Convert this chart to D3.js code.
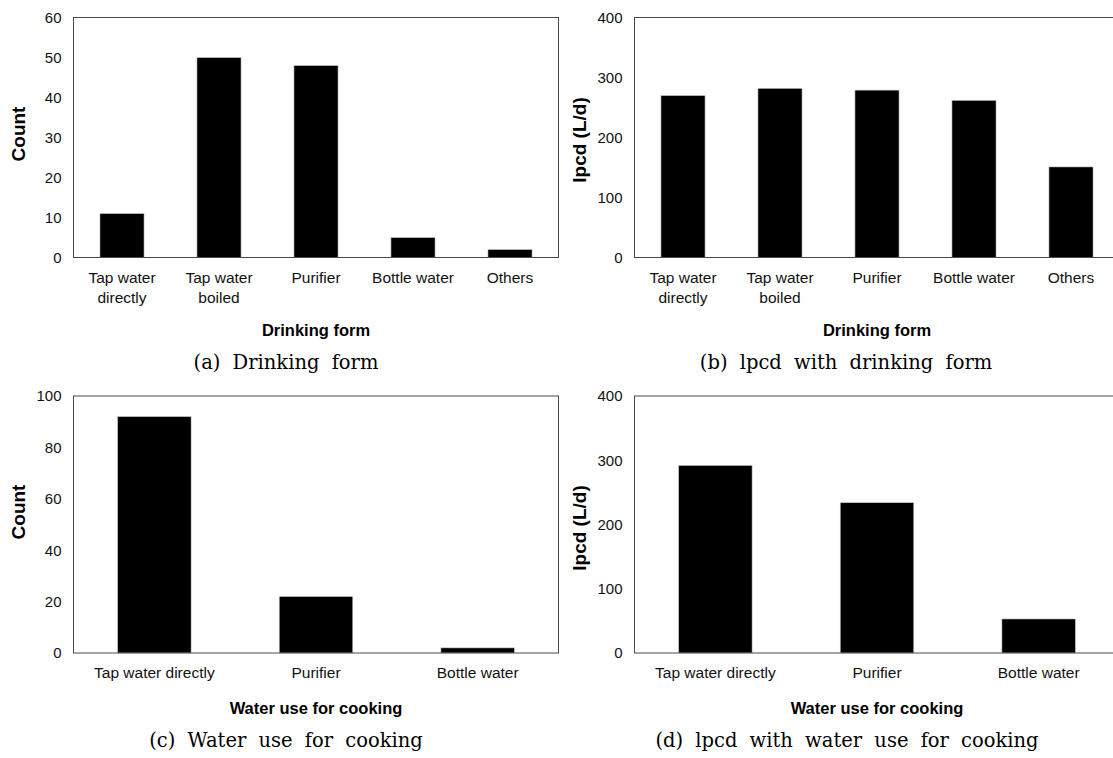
<!DOCTYPE html>
<html>
<head>
<meta charset="utf-8">
<script src="https://cdn.jsdelivr.net/npm/d3@7"></script>
<style>
body { margin: 0; background: #fff; }
</style>
</head>
<body>
<div id="chart"></div>
<script>
// categories (a "\n" marks a line break in the tick label)
var drinkForms = ["Tap water\ndirectly", "Tap water\nboiled", "Purifier", "Bottle water", "Others"];
var cookForms = ["Tap water directly", "Purifier", "Bottle water"];

// series values
var drinkCounts = [11, 50, 48, 5, 2];
var drinkLpcd = [270, 282, 279, 262, 151];
var cookCounts = [92, 22, 2];
var cookLpcd = [292, 234, 53];

// tick labels
var countTicksA = [0, 10, 20, 30, 40, 50, 60];
var countTicksC = [0, 20, 40, 60, 80, 100];
var lpcdTicks = [0, 100, 200, 300, 400];

var plotWidth = 485;

var panels = [
	{ cats: drinkForms, values: drinkCounts, ticks: countTicksA, yTitle: "Count", xTitle: "Drinking form",
	  caption: "(a) Drinking form", left: 73.5, top: 17.5, bottom: 257.5, yTitleY: 134, xTitleY: 330, capX: 286, capY: 362 },
	{ cats: drinkForms, values: drinkLpcd, ticks: lpcdTicks, yTitle: "lpcd (L/d)", xTitle: "Drinking form",
	  caption: "(b) lpcd with drinking form", left: 634.5, top: 17.5, bottom: 257.5, yTitleY: 140, xTitleY: 330, capX: 846, capY: 362 },
	{ cats: cookForms, values: cookCounts, ticks: countTicksC, yTitle: "Count", xTitle: "Water use for cooking",
	  caption: "(c) Water use for cooking", left: 73.5, top: 396, bottom: 653, yTitleY: 512, xTitleY: 708, capX: 286, capY: 740 },
	{ cats: cookForms, values: cookLpcd, ticks: lpcdTicks, yTitle: "lpcd (L/d)", xTitle: "Water use for cooking",
	  caption: "(d) lpcd with water use for cooking", left: 634.5, top: 396, bottom: 653, yTitleY: 528, xTitleY: 708, capX: 847, capY: 740 }
];

var svg = d3.select("#chart").append("svg")
	.attr("width", 1113)
	.attr("height", 758);

var sans = "'Liberation Sans', Arial, sans-serif";

function drawPanel(p) {
	var g = svg.append("g");

	var x = d3.scaleBand()
		.domain(p.cats)
		.range([p.left, p.left + plotWidth])
		.paddingInner(0.545)
		.paddingOuter(0.2725);
	var y = d3.scaleLinear()
		.domain([0, d3.max(p.ticks)])
		.range([p.bottom, p.top]);

	// bars
	g.selectAll(".bar")
		.data(p.values)
	  .enter().append("rect")
		.attr("class", "bar")
		.attr("x", function(d, i) { return x(p.cats[i]); })
		.attr("width", x.bandwidth())
		.attr("y", function(d) { return y(d); })
		.attr("height", function(d) { return y(0) - y(d); })
		.attr("fill", "#000")
		.attr("stroke", "#d0d0d0")
		.attr("stroke-width", 0.6);

	// plot frame
	g.append("rect")
		.attr("x", p.left)
		.attr("y", p.top)
		.attr("width", plotWidth)
		.attr("height", p.bottom - p.top)
		.attr("fill", "none")
		.attr("stroke", "#4a4a4a")
		.attr("stroke-width", 1);

	// y axis
	var yAxis = g.append("g")
		.attr("transform", "translate(" + p.left + ",0)")
		.call(d3.axisLeft(y).tickValues(p.ticks).tickSize(0).tickPadding(12));
	yAxis.select(".domain").remove();
	yAxis.selectAll("text")
		.attr("font-family", sans)
		.attr("font-size", "15px")
		.attr("fill", "#111");

	// x axis
	var xAxis = g.append("g")
		.attr("transform", "translate(0," + p.bottom + ")")
		.call(d3.axisBottom(x).tickSize(0));
	xAxis.select(".domain").remove();
	xAxis.selectAll(".tick text")
		.attr("font-family", sans)
		.attr("font-size", "15.5px")
		.attr("fill", "#111")
		.attr("y", null)
		.attr("dy", null)
		.each(function(d) {
			var t = d3.select(this);
			t.text(null);
			d.split("\n").forEach(function(line, i) {
				t.append("tspan")
					.attr("x", 0)
					.attr("y", 20 + i * 20)
					.attr("dy", "0.35em")
					.text(line);
			});
		});

	// axis titles
	g.append("text")
		.attr("transform", "translate(" + (p.left - 55) + "," + p.yTitleY + ") rotate(-90)")
		.attr("text-anchor", "middle")
		.attr("dy", "0.35em")
		.attr("font-family", sans)
		.attr("font-weight", "bold")
		.attr("font-size", "19px")
		.attr("fill", "#000")
		.text(p.yTitle);

	g.append("text")
		.attr("x", p.left + plotWidth / 2)
		.attr("y", p.xTitleY)
		.attr("text-anchor", "middle")
		.attr("dy", "0.35em")
		.attr("font-family", sans)
		.attr("font-weight", "bold")
		.attr("font-size", "16.5px")
		.attr("fill", "#000")
		.text(p.xTitle);

	// caption
	g.append("text")
		.attr("x", p.capX)
		.attr("y", p.capY)
		.attr("text-anchor", "middle")
		.attr("dy", "0.35em")
		.attr("font-family", "'DejaVu Serif', serif")
		.attr("font-size", "19.5px")
		.attr("word-spacing", "6px")
		.attr("fill", "#000")
		.text(p.caption);
}

panels.forEach(drawPanel);
</script>
</body>
</html>
